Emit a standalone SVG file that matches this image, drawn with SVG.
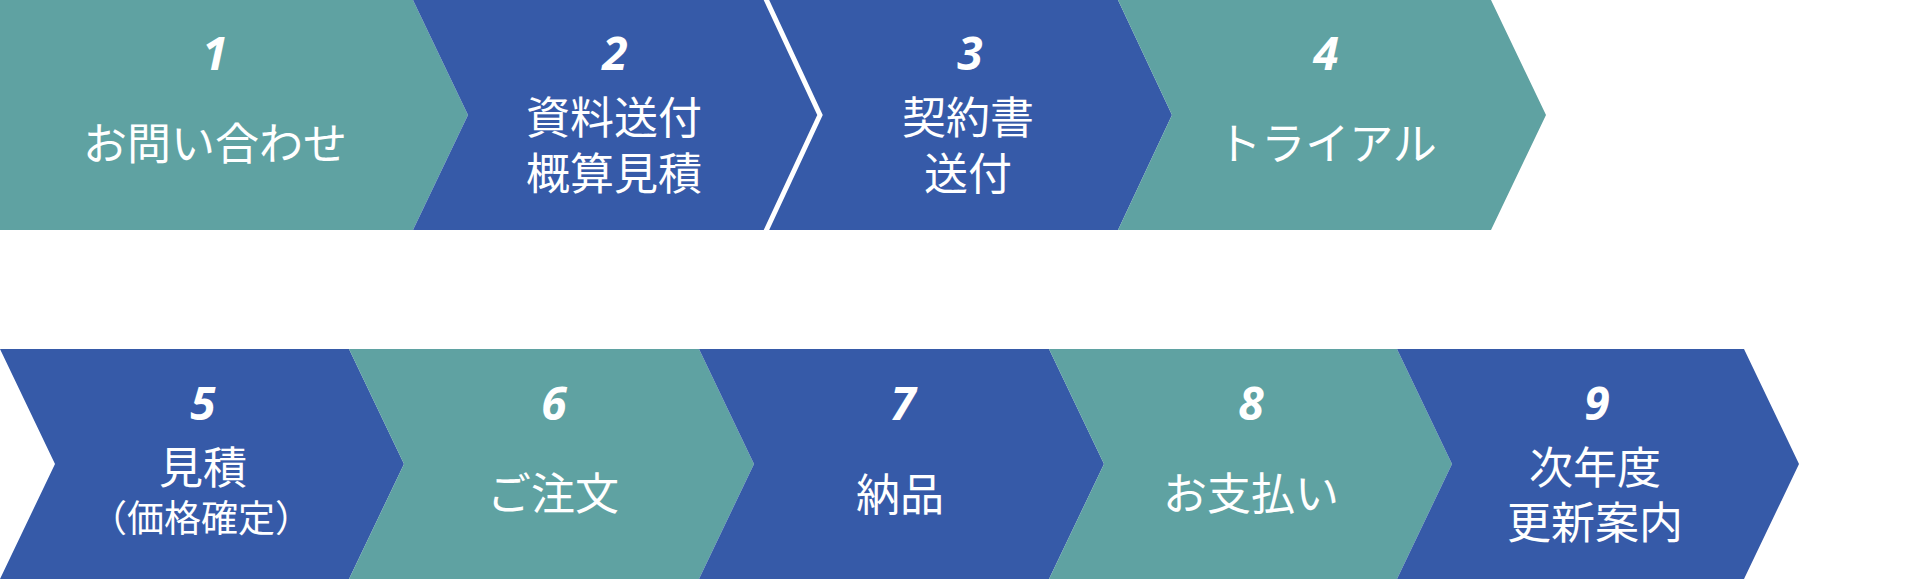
<svg xmlns="http://www.w3.org/2000/svg" width="1920" height="580" viewBox="0 0 1920 580">
  <style>
    .teal { fill: #5FA2A2; }
    .blue { fill: #365AA8; }
    .num { font-family: "Open Sans", "Liberation Sans", sans-serif; font-weight: 700; font-style: italic; font-size: 46px; fill: #FFFFFF; text-anchor: middle; }
    .lbl { font-family: "Noto Sans CJK JP", "Noto Sans", sans-serif; font-weight: 400; font-size: 44px; fill: #FFFFFF; text-anchor: middle; }
    .sub { font-size: 37px; }
  </style>
  <rect width="1920" height="580" fill="#FFFFFF"/>

  <g id="step1">
    <polygon class="teal" points="0,0 413,0 468,115 413,230 0,230"/>
    <text class="num" x="215" y="70">1</text>
    <text class="lbl" x="215" y="160">お問い合わせ</text>
  </g>
  <g id="step2">
    <polygon class="blue" points="413,0 765,0 820,115 765,230 413,230 468,115"/>
    <text class="num" x="615" y="70">2</text>
    <text class="lbl" x="614" y="134">資料送付</text>
    <text class="lbl" x="614" y="190">概算見積</text>
  </g>
  <g id="step3">
    <polygon class="blue" points="765,0 1118,0 1172,115 1118,230 765,230 820,115"/>
    <text class="num" x="970" y="70">3</text>
    <text class="lbl" x="968" y="134">契約書</text>
    <text class="lbl" x="968" y="190">送付</text>
  </g>
  <g id="step4">
    <polygon class="teal" points="1118,0 1491,0 1546,115 1491,230 1118,230 1172,115"/>
    <text class="num" x="1326" y="70">4</text>
    <text class="lbl" x="1327" y="160">トライアル</text>
  </g>
  <g id="divider">
    <polyline points="765.5,-2 820,115 765.5,232" fill="none" stroke="#FFFFFF" stroke-width="5"/>
  </g>

  <g id="step5">
    <polygon class="blue" points="0,349 349,349 404,464 349,579 0,579 55,464"/>
    <text class="num" x="203" y="420">5</text>
    <text class="lbl" x="203" y="484">見積</text>
    <text class="lbl sub" x="201" y="532">（価格確定）</text>
  </g>
  <g id="step6">
    <polygon class="teal" points="349,349 699,349 754,464 699,579 349,579 404,464"/>
    <text class="num" x="554" y="420">6</text>
    <text class="lbl" x="553" y="510">ご注文</text>
  </g>
  <g id="step7">
    <polygon class="blue" points="699,349 1049,349 1104,464 1049,579 699,579 754,464"/>
    <text class="num" x="903" y="420">7</text>
    <text class="lbl" x="900" y="511">納品</text>
  </g>
  <g id="step8">
    <polygon class="teal" points="1049,349 1397,349 1452,464 1397,579 1049,579 1104,464"/>
    <text class="num" x="1251" y="420">8</text>
    <text class="lbl" x="1251" y="510">お支払い</text>
  </g>
  <g id="step9">
    <polygon class="blue" points="1397,349 1744,349 1799,464 1744,579 1397,579 1452,464"/>
    <text class="num" x="1597" y="420">9</text>
    <text class="lbl" x="1595" y="484">次年度</text>
    <text class="lbl" x="1595" y="539">更新案内</text>
  </g>
</svg>
